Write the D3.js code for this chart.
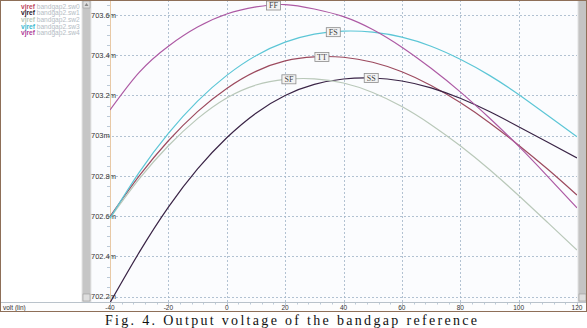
<!DOCTYPE html>
<html>
<head>
<meta charset="utf-8">
<script src="https://cdn.jsdelivr.net/npm/d3@7"></script>
<style>
  html, body { margin: 0; padding: 0; background: #ffffff; }
  svg { display: block; }
</style>
</head>
<body>
<svg id="chart" width="587" height="328"></svg>
<script>
// temperature sweep (x axis)
const temps = [-40, -30, -20, -10, 0, 10, 20, 30, 40, 50, 60, 70, 80, 90, 100, 110, 120];

// vjref in mV, one array per corner
const ff = [703.128, 703.315, 703.445, 703.540, 703.605, 703.640, 703.652, 703.630, 703.592,
            703.528, 703.440, 703.335, 703.218, 703.088, 702.948, 702.797, 702.641];
const fs = [702.590, 702.818, 703.012, 703.172, 703.300, 703.398, 703.465, 703.505, 703.520,
            703.515, 703.490, 703.445, 703.380, 703.300, 703.205, 703.100, 702.995];
const tt = [702.598, 702.800, 702.975, 703.120, 703.235, 703.320, 703.372, 703.392, 703.390,
            703.365, 703.318, 703.250, 703.165, 703.065, 702.953, 702.833, 702.705];
const sf = [702.590, 702.785, 702.950, 703.085, 703.188, 703.252, 703.280, 703.283, 703.262,
            703.215, 703.145, 703.055, 702.950, 702.832, 702.703, 702.568, 702.432];
const ss = [702.170, 702.420, 702.645, 702.835, 702.990, 703.112, 703.200, 703.255, 703.282,
            703.287, 703.272, 703.238, 703.186, 703.120, 703.045, 702.968, 702.890];

const cornerNames = ["TT", "SS", "SF", "FS", "FF"];
const cornerValues = [tt, ss, sf, fs, ff];
const cornerColors = ["#9c4a5e", "#3a2446", "#b9c8b9", "#5cc6d6", "#ad5aa4"];
const legendNames = ["bandgap2.sw0", "bandgap2.sw1", "bandgap2.sw2", "bandgap2.sw3", "bandgap2.sw4"];
const legendColors = ["#c04862", "#2e1830", "#b8c8b8", "#3cb8d0", "#b0409a"];
// where along x each corner tag sits
const tagTemps = [32.6, 49.5, 21.3, 36.5, 16];

const yTicks = [702.2, 702.4, 702.6, 702.8, 703.0, 703.2, 703.4, 703.6];
const xTicks = [-40, -20, 0, 20, 40, 60, 80, 100, 120];

const W = 587;
const plotL = 110, plotR = 577, plotT = 0, plotB = 302;

const svg = d3.select("#chart");

const x = d3.scaleLinear().domain([-40, 120]).range([plotL, plotR]);
const y = d3.scaleLinear().domain([702.1736, 703.6746]).range([plotB, plotT]);

// backgrounds
svg.append("rect").attr("x", 0).attr("y", 0).attr("width", W).attr("height", plotB + 10)
  .attr("fill", "#fbfcfe");
svg.append("rect").attr("x", 0).attr("y", 0).attr("width", 82).attr("height", plotB)
  .attr("fill", "#ffffff");

// left scrollbar
svg.append("rect").attr("x", 82).attr("y", 0).attr("width", 9).attr("height", plotB)
  .attr("fill", "#c6c6c6").attr("stroke", "#e6e6e6").attr("stroke-width", 1);
svg.append("rect").attr("x", 83).attr("y", 1).attr("width", 7).attr("height", 7)
  .attr("fill", "#dedede").attr("stroke", "#9a9a9a").attr("stroke-width", 0.6);
svg.append("path").attr("d", "M84.5,6 L86.5,3 L88.5,6 Z").attr("fill", "#888");
svg.append("rect").attr("x", 83).attr("y", plotB - 8).attr("width", 7).attr("height", 7)
  .attr("fill", "#dedede").attr("stroke", "#9a9a9a").attr("stroke-width", 0.6);

// right scrollbar
svg.append("rect").attr("x", 578).attr("y", 0).attr("width", 9).attr("height", plotB)
  .attr("fill", "#c4c4c4").attr("stroke", "#e2e2e2").attr("stroke-width", 1);
svg.append("rect").attr("x", 579).attr("y", plotB - 8).attr("width", 7).attr("height", 7)
  .attr("fill", "#dedede").attr("stroke", "#9a9a9a").attr("stroke-width", 0.6);

// grid
const grid = svg.append("g").attr("stroke", "#9fb3c6").attr("stroke-width", 0.8)
  .attr("stroke-dasharray", "2,2");
grid.selectAll("line.h").data(yTicks).enter().append("line")
  .attr("x1", 108).attr("x2", plotR)
  .attr("y1", d => Math.round(y(d)) + 0.5).attr("y2", d => Math.round(y(d)) + 0.5);
grid.selectAll("line.v").data(xTicks.slice(1, -1)).enter().append("line")
  .attr("y1", plotT).attr("y2", plotB)
  .attr("x1", d => Math.round(x(d)) + 0.5).attr("x2", d => Math.round(x(d)) + 0.5);

// y axis: minor ticks + labels
const yMinor = d3.range(702.2, 703.7, 0.05);
svg.append("g").selectAll("line").data(yMinor).enter().append("line")
  .attr("x1", plotL - 3).attr("x2", plotL)
  .attr("y1", d => Math.round(y(d)) + 0.5).attr("y2", d => Math.round(y(d)) + 0.5)
  .attr("stroke", "#9fb3c6").attr("stroke-width", 0.7);
svg.append("g").selectAll("text").data(yTicks).enter().append("text")
  .attr("x", 91).attr("y", d => y(d) + 2.7)
  .attr("font-family", "Arial, 'Liberation Sans', sans-serif")
  .attr("font-size", 7.5).attr("fill", "#333")
  .text(d => d3.format(".1f")(d).replace(/\.0$/, "") + "m");

svg.append("line").attr("x1", plotL + 0.5).attr("x2", plotL + 0.5)
  .attr("y1", plotT).attr("y2", plotB).attr("stroke", "#e8c9a6").attr("stroke-width", 1);
svg.append("line").attr("x1", 0).attr("x2", plotR)
  .attr("y1", 0.5).attr("y2", 0.5).attr("stroke", "#b8ccc0").attr("stroke-width", 1);

// curves
svg.append("defs").append("clipPath").attr("id", "plotClip")
  .append("rect").attr("x", plotL).attr("y", plotT)
  .attr("width", plotR - plotL).attr("height", plotB - plotT);

const line = d3.line()
  .x((d, i) => x(temps[i]))
  .y(d => y(d))
  .curve(d3.curveNatural);

svg.append("g").attr("clip-path", "url(#plotClip)")
  .selectAll("path").data(cornerValues).enter().append("path")
  .attr("d", d => line(d))
  .attr("fill", "none")
  .attr("stroke", (d, i) => cornerColors[i])
  .attr("stroke-width", 1.2);

// corner tags
function valueAt(values, t) {
  const i = Math.min(temps.length - 2, Math.floor((t - temps[0]) / 10));
  const f = (t - temps[i]) / (temps[i + 1] - temps[i]);
  return values[i] + (values[i + 1] - values[i]) * f;
}
const tags = svg.append("g").selectAll("g").data(cornerNames).enter().append("g")
  .attr("transform", (d, i) => "translate(" + x(tagTemps[i]) + "," + y(valueAt(cornerValues[i], tagTemps[i])) + ")");
tags.append("rect").attr("x", -7).attr("y", -4.5).attr("width", 14).attr("height", 9)
  .attr("fill", "#f3f3f3").attr("stroke", "#8c8c8c").attr("stroke-width", 0.8);
tags.append("text").attr("text-anchor", "middle").attr("y", 2.8)
  .attr("font-family", "'Liberation Serif', 'Times New Roman', serif")
  .attr("font-size", 8).attr("fill", "#444")
  .text(d => d);

// legend
const leg = svg.append("g").selectAll("text").data(legendNames).enter().append("text")
  .attr("x", 21).attr("y", (d, i) => 8.5 + i * 6.7)
  .attr("font-family", "Arial, 'Liberation Sans', sans-serif")
  .attr("font-size", 6.6);
leg.append("tspan").attr("fill", (d, i) => legendColors[i]).attr("font-weight", "bold").text("vjref");
leg.append("tspan").attr("fill", "#b4bcc4").text(d => " " + d);

// x axis band
svg.append("rect").attr("x", 0.5).attr("y", plotB + 0.5).attr("width", W - 1).attr("height", 9)
  .attr("fill", "#fdfdfd").attr("stroke", "#b9c2ca").attr("stroke-width", 1);
const xMinor = d3.range(-40, 121, 4);
svg.append("g").selectAll("line").data(xMinor).enter().append("line")
  .attr("x1", d => Math.round(x(d)) + 0.5).attr("x2", d => Math.round(x(d)) + 0.5)
  .attr("y1", plotB + 1).attr("y2", d => (d % 20 === 0) ? plotB + 3.5 : plotB + 2.5)
  .attr("stroke", "#9fb3c6").attr("stroke-width", 0.7);
svg.append("g").selectAll("text").data(xTicks).enter().append("text")
  .attr("x", d => x(d)).attr("y", plotB + 8.3)
  .attr("text-anchor", "middle")
  .attr("font-family", "Arial, 'Liberation Sans', sans-serif")
  .attr("font-size", 6.5).attr("fill", "#333")
  .text(d => d);
svg.append("text").attr("x", 3).attr("y", plotB + 8.3)
  .attr("font-family", "Arial, 'Liberation Sans', sans-serif")
  .attr("font-size", 6.5).attr("fill", "#333")
  .text("volt (lin)");

// outer frame
svg.append("rect").attr("x", 0.5).attr("y", 0.5).attr("width", W - 1).attr("height", plotB + 9)
  .attr("fill", "none").attr("stroke", "#8e6f58").attr("stroke-width", 1);

// caption
svg.append("text").attr("x", 105).attr("y", 325)
  .attr("font-family", "'Liberation Serif', 'Times New Roman', serif")
  .attr("font-size", 14).attr("fill", "#111")
  .attr("textLength", 372).attr("lengthAdjust", "spacing")
  .text("Fig. 4. Output voltage of the bandgap reference");
</script>
</body>
</html>
